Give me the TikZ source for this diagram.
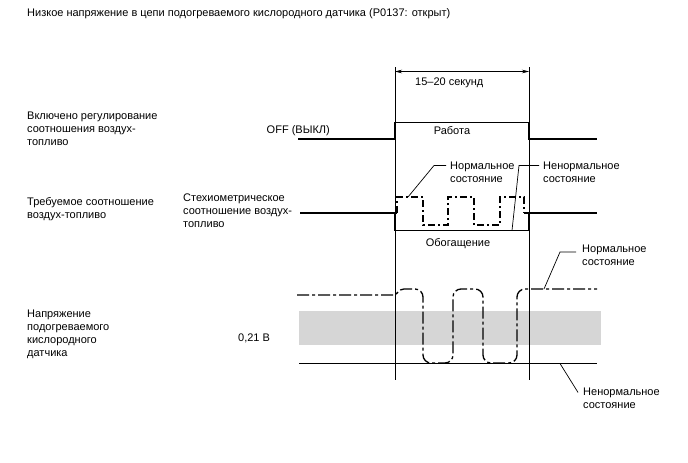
\documentclass[tikz,border=0pt]{standalone}
\usepackage{fontspec}
\setmainfont{Liberation Sans}
\usetikzlibrary{calc,arrows.meta}
\begin{document}
\begin{tikzpicture}[x=1pt,y=-1pt,
  txt/.style={font=\fontsize{11}{13}\selectfont, inner sep=0pt, align=left, anchor=north west, execute at begin node=\strut},
  sig/.style={line width=1.4pt},
  thinline/.style={line width=0.6pt},
  dd/.style={line width=1.3pt, dash pattern=on 12pt off 3pt on 3pt off 3pt},
  ddsmall/.style={line width=1.2pt, dash pattern=on 7pt off 3pt on 2pt off 3pt},
  lead/.style={line width=0.7pt}]
\useasboundingbox (0,0) rectangle (688,463);
% gray band
\fill[black!16] (299,311) rectangle (601,345);
% texts
\node[txt] (title) at (27,7.4) {Низкое напряжение в цепи подогреваемого кислородного датчика (P0137: открыт)};
\node[txt] (lab1) at (27,111.9) {Включено регулирование\\соотношения воздух-\\топливо};
\node[txt] (lab2) at (27,196.9) {Требуемое соотношение\\воздух-топливо};
\node[txt] (stoich) at (183,193.9) {Стехиометрическое\\соотношение воздух-\\топливо};
\node[txt] (lab3) at (27,309.9) {Напряжение\\подогреваемого\\кислородного\\датчика};
\node[txt,anchor=north east] (off) at (330,123.9) {OFF (ВЫКЛ)};
\node[txt,anchor=north] (work) at (452,124.9) {Работа};
\node[txt] (sec) at (415,75.9) {15–20 секунд};
\node[txt] (n1) at (450,161.9) {Нормальное\\состояние};
\node[txt] (a1) at (543,161.9) {Ненормальное\\состояние};
\node[txt,anchor=north] (rich) at (458,236.9) {Обогащение};
\node[txt] (n2) at (582,244.9) {Нормальное\\состояние};
\node[txt] (a2) at (583,387.9) {Ненормальное\\состояние};
\node[txt] (v021) at (238,331.9) {0,21 В};
% time markers
\coordinate (t1top) at (395,67);
\coordinate (t1bot) at (395,380);
\coordinate (t2top) at (529,67);
\coordinate (t2bot) at (529,380);
\draw[thinline] (t1top) -- (t1bot);
\draw[thinline] (t2top) -- (t2bot);
\draw[thinline,{Stealth[length=7pt,width=3.5pt]}-{Stealth[length=7pt,width=3.5pt]}] (395,71.5) -- (529,71.5);
% row 1
\draw[sig,line width=1.6pt] (298,139) -- (395,139) -- (395,122.5) -- (529,122.5) -- (529,139) -- (597,139);
% row 2
\draw[sig] (300,213) -- (397,213);
\draw[sig] (524,213) -- (597,213);
\draw[sig] (395,213) -- (395,230.5) -- (529,230.5) -- (529,213);
\draw[ddsmall] (397,213) -- (397,197) -- (423,197) -- (423,225) -- (448,225) -- (448,197) -- (474,197) -- (474,225) -- (500,225) -- (500,197) -- (524,197) -- (524,213);
% row 3
\draw[sig] (299,363.5) -- (597,363.5);
\draw[dd] (297,295) -- (393,295) .. controls (398,295) and (398,289) .. (404,289)
  [rounded corners=8pt] -- (423,289) -- (423,363) -- (453,363) -- (453,289) -- (483,289) -- (483,363) -- (517,363) -- (517,289) -- (597,289);
% leaders
\coordinate (n1k) at (434,165.5);
\coordinate (n1t) at (408,197);
\draw[lead] ($(n1.north west)+(-4,3.6)$) -- (n1k) -- (n1t);
\coordinate (a1k) at (519,165.5);
\coordinate (a1t) at (512,230.5);
\draw[lead] ($(a1.north west)+(-4,3.6)$) -- (a1k) -- (a1t);
\coordinate (n2k) at (560,252);
\coordinate (n2t) at (544,289);
\draw[lead] ($(n2.north west)+(-6,7)$) -- (n2k) -- (n2t);
\coordinate (a2t) at (560,363.5);
\draw[lead] ($(a2.north west)+(-5,4.5)$) -- (a2t);
\end{tikzpicture}
\end{document}
